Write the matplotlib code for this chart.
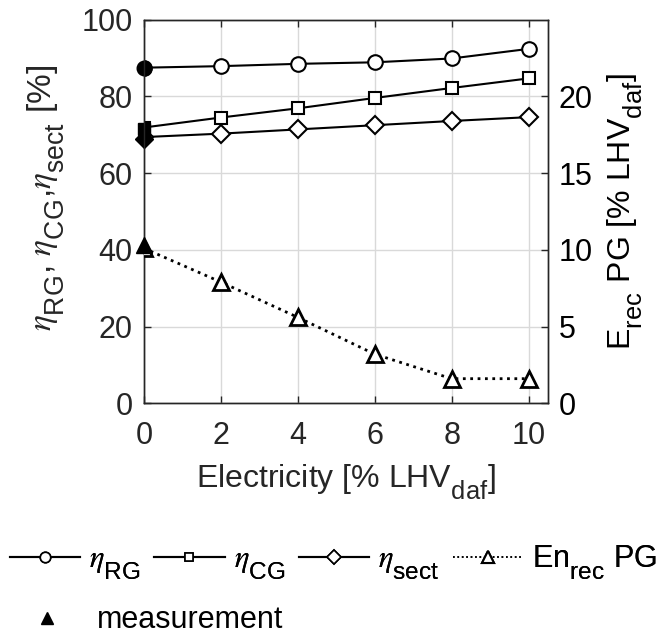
import matplotlib
matplotlib.use("Agg")
import matplotlib.pyplot as plt
from matplotlib.lines import Line2D
import matplotlib._mathtext as _mt

# MATLAB-like (larger, lower) subscripts
_mt.SHRINK_FACTOR = 0.8
_mt.FontConstantsBase.sub1 = 0.9

plt.rcParams['font.family'] = ['Liberation Sans', 'DejaVu Sans']
plt.rcParams['mathtext.fontset'] = 'custom'
plt.rcParams['mathtext.rm'] = 'Liberation Sans'
plt.rcParams['mathtext.it'] = 'STIXGeneral:italic'
plt.rcParams['mathtext.bf'] = 'Liberation Sans:bold'

electricity = [0, 2, 4, 6, 8, 10]
eta_rg = [87.5, 87.9, 88.5, 88.9, 89.9, 92.4]
eta_cg = [71.9, 74.5, 76.9, 79.6, 82.2, 84.7]
eta_sect = [69.4, 70.3, 71.4, 72.5, 73.6, 74.6]
en_rec_pg = [10.1, 7.9, 5.6, 3.2, 1.6, 1.6]

meas_x = [0]
meas_rg = [87.5]
meas_cg = [71.5]
meas_sect = [69.0]
meas_en = [10.3]

x_ticks = [0, 2, 4, 6, 8, 10]
left_ticks = [0, 20, 40, 60, 80, 100]
right_ticks = [0, 5, 10, 15, 20]

fs_tick = 22
fs_lab = 23
fs_leg = 22
dark = '#262626'

fig = plt.figure(figsize=(6.6, 6.37), dpi=100)
ax = fig.add_axes([0.218, 0.367, 0.612, 0.602])
ax2 = ax.twinx()

lw = 1.5
ax.plot(electricity, eta_rg, '-', color='black', lw=lw, marker='o', ms=10.5, mfc='white', mec='black', mew=1.5, zorder=3)
ax.plot(electricity, eta_cg, '-', color='black', lw=lw, marker='s', ms=8.5, mfc='white', mec='black', mew=1.5, zorder=3)
ax.plot(electricity, eta_sect, '-', color='black', lw=lw, marker='D', ms=9, mfc='white', mec='black', mew=1.5, zorder=3)
ax.plot(meas_x, meas_rg, 'o', color='black', ms=10.5, zorder=5, clip_on=False)
ax.plot(meas_x, meas_cg, 's', color='black', ms=8.5, zorder=5, clip_on=False)
ax.plot(meas_x, meas_sect, 'D', color='black', ms=9, zorder=5, clip_on=False)

ax2.plot(electricity, en_rec_pg, ':', color='black', lw=2, marker='^', ms=11, mfc='white', mec='black', mew=2, zorder=3)
ax2.plot(meas_x, meas_en, '^', color='black', ms=11, zorder=5, clip_on=False)

ax.set_xlim(0, 10.5)
ax.set_ylim(0, 100)
ax2.set_ylim(0, 25)
ax.set_xticks(x_ticks)
ax.set_yticks(left_ticks)
ax2.set_yticks(right_ticks)

ax.grid(True, color='#d9d9d9', lw=1.0)
ax.set_axisbelow(True)

for a in (ax, ax2):
    a.tick_params(direction='in', labelsize=fs_tick, length=5, width=1.0, color=dark)
    for s in a.spines.values():
        s.set_color(dark)
        s.set_linewidth(1.0)
ax.tick_params(labelcolor=dark)
ax2.tick_params(labelcolor='black')
ax.tick_params(top=True, which='both')
ax.tick_params(axis='x', pad=13)
ax.tick_params(axis='y', pad=8)
ax2.tick_params(axis='y', pad=8)

ax.set_xlabel(r'Electricity [% LHV$_{\mathrm{daf}}$]', fontsize=fs_lab, color=dark, labelpad=8)
ax.set_ylabel(r'$\eta_{\mathrm{RG}}$, $\eta_{\mathrm{CG}}$,$\eta_{\mathrm{sect}}$ [%]', fontsize=24, color=dark)
ax.yaxis.set_label_coords(-0.19, 0.535)
ax2.set_ylabel(r'E$_{\mathrm{rec}}$ PG [% LHV$_{\mathrm{daf}}$]', fontsize=fs_lab, color='black', labelpad=9)

handles = [
    Line2D([], [], color='black', lw=lw, marker='o', ms=7.5, mfc='white', mec='black', mew=1.2),
    Line2D([], [], color='black', lw=lw, marker='s', ms=6, mfc='white', mec='black', mew=1.2),
    Line2D([], [], color='black', lw=lw, marker='D', ms=7, mfc='white', mec='black', mew=1.2),
    Line2D([], [], color='black', lw=1.2, ls=':', marker='^', ms=8, mfc='white', mec='black', mew=1.5),
]
labels = [r'$\eta_{\mathrm{RG}}$', r'$\eta_{\mathrm{CG}}$', r'$\eta_{\mathrm{sect}}$', r'En$_{\mathrm{rec}}$ PG']
leg1 = fig.legend(handles, labels, loc='center left', bbox_to_anchor=(0.015, 0.116), ncol=4,
                  frameon=False, fontsize=fs_leg, handlelength=2.3, handletextpad=0.3, columnspacing=0.45,
                  borderaxespad=0, borderpad=0)
fig.add_artist(leg1)
h2 = [Line2D([], [], color='black', lw=0, marker='^', ms=9)]
leg2 = fig.legend(h2, ['measurement'], loc='center left', bbox_to_anchor=(0.048, 0.026),
                  frameon=False, fontsize=fs_leg, handlelength=1.0, handletextpad=1.15, borderpad=0, borderaxespad=0)

fig.savefig('out.png', dpi=100)
